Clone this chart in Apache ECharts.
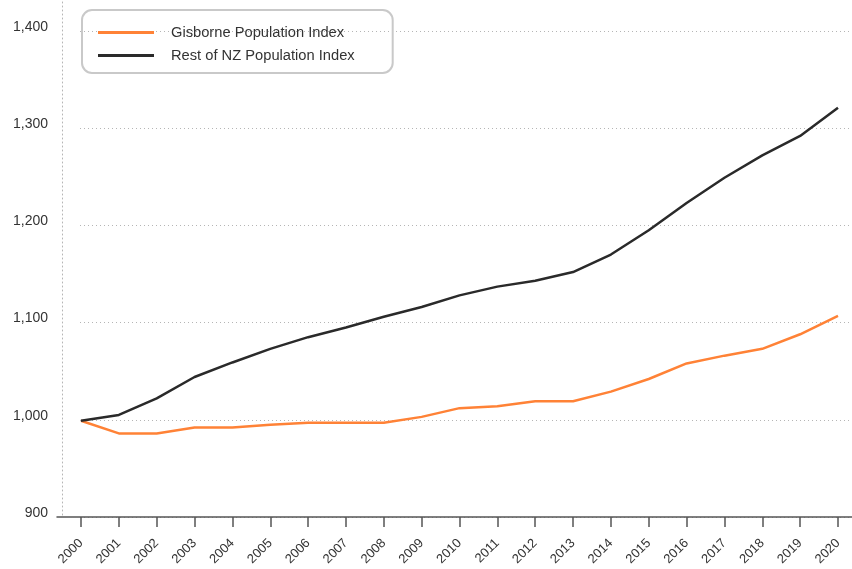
<!DOCTYPE html>
<html>
<head>
<meta charset="utf-8">
<script src="https://cdn.jsdelivr.net/npm/echarts@6/dist/echarts.min.js"></script>
<style>
  html, body { margin: 0; padding: 0; background: #fff; }
  #chart { width: 852px; height: 569px; }
</style>
</head>
<body>
<div id="chart"></div>
<script>
// Population index, base year 2000 = 1,000
const years = ['2000','2001','2002','2003','2004','2005','2006','2007','2008','2009','2010',
               '2011','2012','2013','2014','2015','2016','2017','2018','2019','2020'];
const gisborne = [999, 986, 986, 992, 992, 995, 997, 997, 997, 1003, 1012,
                  1014, 1019, 1019, 1029, 1042, 1058, 1066, 1073, 1088, 1107];
const restOfNZ = [999, 1005, 1022, 1044, 1059, 1073, 1085, 1095, 1106, 1116, 1128,
                  1137, 1143, 1152, 1170, 1195, 1223, 1249, 1272, 1292, 1321];
const yMin = 900, yMax = 1400, yStep = 100;

const FONT = '"Liberation Sans", Arial, Helvetica, sans-serif';
const GRID_BOTTOM = 52;
const chart = echarts.init(document.getElementById('chart'), null, { renderer: 'canvas' });

chart.setOption({
  animation: false,
  backgroundColor: '#ffffff',
  textStyle: { fontFamily: FONT },
  legend: {
    orient: 'vertical',
    left: 82,
    top: 10,
    padding: [15, 38, 10, 16],
    itemGap: 8,
    itemWidth: 56,
    itemHeight: 3,
    icon: 'rect',
    itemStyle: { borderWidth: 0 },
    borderColor: '#c9c9c9',
    borderWidth: 2,
    borderRadius: 10,
    textStyle: { fontFamily: FONT, fontSize: 14.7, color: '#333', padding: [0, 0, 0, 12] },
    data: ['Gisborne Population Index', 'Rest of NZ Population Index']
  },
  grid: [
    // main plotting area: first and last year sit on the grid edges
    { left: 81, right: 14, top: 31, bottom: GRID_BOTTOM },
    // baseline running the full width
    { left: 57, right: 0, top: 31, bottom: GRID_BOTTOM },
    // dotted vertical axis line running to the top edge
    { left: 62, right: 0, top: 0, bottom: GRID_BOTTOM + 2 },
    // horizontal dotted gridlines
    { left: 80, right: 0, top: 31, bottom: GRID_BOTTOM }
  ],
  xAxis: [
    {
      gridIndex: 0,
      type: 'category',
      data: years,
      boundaryGap: false,
      axisLine: { show: false },
      axisTick: { show: true, length: 10, lineStyle: { color: '#555', width: 1.5 } },
      axisLabel: { rotate: 45, margin: 24, fontSize: 13, color: '#333', fontFamily: FONT, interval: 0 },
      splitLine: { show: false }
    },
    {
      gridIndex: 1, type: 'value', min: 0, max: 1,
      axisLine: { show: true, lineStyle: { color: '#555', width: 1.5 } },
      axisTick: { show: false }, axisLabel: { show: false }, splitLine: { show: false }
    },
    { gridIndex: 2, type: 'value', show: false },
    { gridIndex: 3, type: 'value', show: false }
  ],
  yAxis: [
    {
      gridIndex: 0,
      type: 'value',
      min: yMin, max: yMax, interval: yStep,
      axisLine: { show: false },
      axisTick: { show: false },
      splitLine: { show: false },
      axisLabel: {
        margin: 33,
        fontSize: 14,
        color: '#333',
        fontFamily: FONT,
        verticalAlign: 'bottom',
        lineHeight: 8,
        formatter: v => v.toLocaleString('en-US')
      }
    },
    { gridIndex: 1, type: 'value', show: false },
    {
      gridIndex: 2,
      type: 'value',
      min: 0, max: 1,
      axisLine: { show: true, lineStyle: { color: '#b5b5b5', width: 1, type: [1, 3] } },
      axisTick: { show: false },
      axisLabel: { show: false },
      splitLine: { show: false }
    },
    {
      gridIndex: 3,
      type: 'value',
      min: yMin, max: yMax, interval: yStep,
      axisLine: { show: false },
      axisTick: { show: false },
      axisLabel: { show: false },
      splitLine: { show: true, lineStyle: { color: '#b5b5b5', width: 1, type: [1, 3] } }
    }
  ],
  series: [
    {
      name: 'Gisborne Population Index',
      type: 'line',
      xAxisIndex: 0, yAxisIndex: 0,
      data: gisborne,
      symbol: 'none',
      color: '#ff8236',
      lineStyle: { color: '#ff8236', width: 2.5 },
      z: 3
    },
    {
      name: 'Rest of NZ Population Index',
      type: 'line',
      xAxisIndex: 0, yAxisIndex: 0,
      data: restOfNZ,
      symbol: 'none',
      color: '#2a2a2a',
      lineStyle: { color: '#2a2a2a', width: 2.5 },
      z: 3
    }
  ]
});
</script>
</body>
</html>
